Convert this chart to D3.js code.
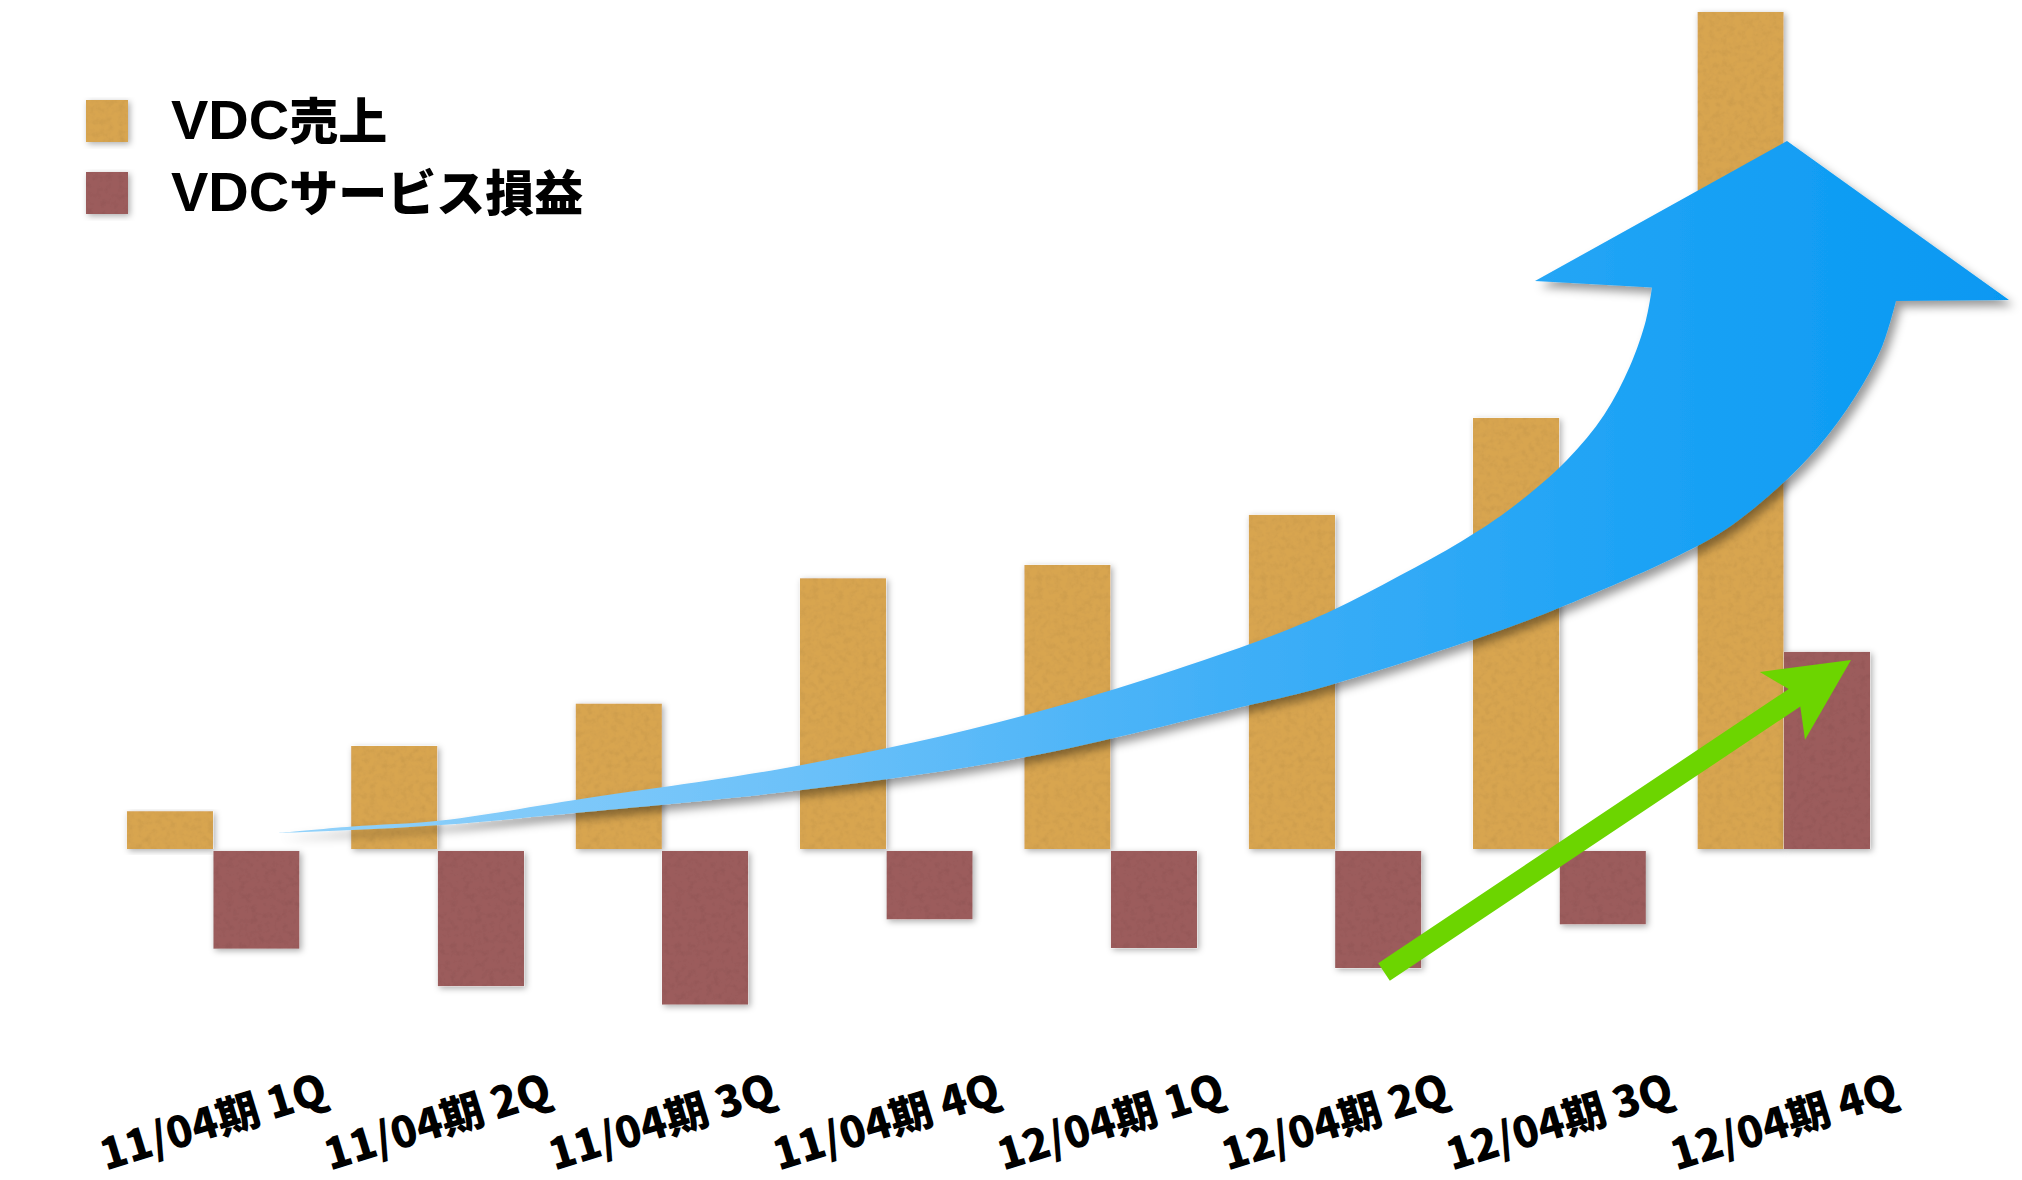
<!DOCTYPE html>
<html lang="ja">
<head>
<meta charset="utf-8">
<title>VDC売上とVDCサービス損益</title>
<script src="https://cdn.jsdelivr.net/npm/d3@7"></script>
<style>
  html, body { margin: 0; padding: 0; background: #ffffff; }
  svg { display: block; }
</style>
</head>
<body>
<svg id="chart" width="2022" height="1180"></svg>
<script>
// Quarterly figures (relative units, 12/04期 4Q sales = 100)
const categories = ["11/04期 1Q", "11/04期 2Q", "11/04期 3Q", "11/04期 4Q",
                    "12/04期 1Q", "12/04期 2Q", "12/04期 3Q", "12/04期 4Q"];
const salesValues  = [4.3, 12.1, 17.2, 32.2, 33.8, 39.8, 51.4, 100];
const profitValues = [-12.2, -16.7, -18.9, -8.7, -12.1, -14.5, -9.3, 23.4];
const seriesNames  = ["VDC売上", "VDCサービス損益"];
const seriesKeys   = ["sales", "profit"];
const seriesColors = ["#d8a550", "#9c5c5c"];

const rows = categories.map((c, i) => ({ cat: c, sales: salesValues[i], profit: profitValues[i] }));

const svg = d3.select("#chart");
const defs = svg.append("defs");

// Paper-like texture + soft shadow for the bars and legend swatches
const tex = defs.append("filter").attr("id", "paper")
  .attr("x", "-20%").attr("y", "-10%").attr("width", "150%").attr("height", "125%");
tex.append("feTurbulence").attr("type", "fractalNoise").attr("baseFrequency", "0.16")
  .attr("numOctaves", 3).attr("seed", 11).attr("result", "noise");
tex.append("feColorMatrix").attr("in", "noise").attr("type", "saturate").attr("values", 0).attr("result", "grey");
const ct = tex.append("feComponentTransfer").attr("in", "grey").attr("result", "shade");
["feFuncR", "feFuncG", "feFuncB"].forEach(f => ct.append(f).attr("type", "linear").attr("slope", 0.28).attr("intercept", 0.84));
ct.append("feFuncA").attr("type", "linear").attr("slope", 0).attr("intercept", 1);
tex.append("feBlend").attr("in", "SourceGraphic").attr("in2", "shade").attr("mode", "multiply").attr("result", "blended");
tex.append("feComposite").attr("in", "blended").attr("in2", "SourceGraphic").attr("operator", "in").attr("result", "textured");
tex.append("feGaussianBlur").attr("in", "SourceAlpha").attr("stdDeviation", 3).attr("result", "blur");
tex.append("feOffset").attr("in", "blur").attr("dx", 2).attr("dy", 2).attr("result", "offBlur");
tex.append("feFlood").attr("flood-color", "#000").attr("flood-opacity", 0.32).attr("result", "col");
tex.append("feComposite").attr("in", "col").attr("in2", "offBlur").attr("operator", "in").attr("result", "shadow");
const mg = tex.append("feMerge");
mg.append("feMergeNode").attr("in", "shadow");
mg.append("feMergeNode").attr("in", "textured");

// Shadow for the sweeping trend arrow
const arrowShadow = defs.append("filter").attr("id", "arrowShadow")
  .attr("x", "-10%").attr("y", "-10%").attr("width", "130%").attr("height", "130%");
arrowShadow.append("feDropShadow").attr("dx", 5).attr("dy", 6).attr("stdDeviation", 5)
  .attr("flood-color", "#000").attr("flood-opacity", 0.4);

const lineShadow = defs.append("filter").attr("id", "lineShadow")
  .attr("x", "-2%").attr("y", "-300%").attr("width", "104%").attr("height", "700%");
lineShadow.append("feDropShadow").attr("dx", 0).attr("dy", 1.5).attr("stdDeviation", 1)
  .attr("flood-color", "#000").attr("flood-opacity", 0.35);

const grad = defs.append("linearGradient").attr("id", "blueGrad")
  .attr("gradientUnits", "userSpaceOnUse").attr("x1", 278).attr("y1", 0).attr("x2", 2009).attr("y2", 0);
[[0, "#93d2fa"], [0.3, "#6cc1f9"], [0.55, "#40aff7"], [0.8, "#1ba2f5"], [1, "#0698f2"]]
  .forEach(([o, c]) => grad.append("stop").attr("offset", o).attr("stop-color", c));

// Scales
const x = d3.scaleBand().domain(categories).range([101, 1896]).paddingInner(0.229).paddingOuter(0.1145);
const xs = d3.scaleBand().domain(seriesKeys).range([0, x.bandwidth()]).padding(0);
const y = d3.scaleLinear().domain([0, 100]).range([847, 12]);
const color = d3.scaleOrdinal().domain(seriesKeys).range(seriesColors);

// Bars: positive bars sit on the axis, negative bars hang just beneath it
const groups = svg.append("g").selectAll("g").data(rows).join("g")
  .attr("transform", d => `translate(${x(d.cat)},0)`);

groups.selectAll("rect")
  .data(d => seriesKeys.map(k => ({ key: k, value: d[k] })))
  .join("rect")
  .attr("x", d => xs(d.key))
  .attr("width", xs.bandwidth())
  .attr("y", d => d.value >= 0 ? y(d.value) : y(0) + 4)
  .attr("height", d => d.value >= 0 ? (y(0) + 2 - y(d.value)) : (y(d.value) - y(0) - 4))
  .attr("fill", d => color(d.key))
  .attr("filter", "url(#paper)");

// Zero line
svg.append("line")
  .attr("x1", 12).attr("x2", 1989).attr("y1", y(0)).attr("y2", y(0))
  .attr("stroke", "#000").attr("stroke-width", 2.5)
  .attr("filter", "url(#lineShadow)");

// Category labels, tilted
const xAxis = d3.axisBottom(x).tickSize(0).tickPadding(0);
const axisG = svg.append("g").attr("transform", "translate(0,1122)").call(xAxis);
axisG.select(".domain").remove();
axisG.selectAll("text")
  .attr("y", 0).attr("dy", "0.35em")
  .attr("text-anchor", "middle")
  .attr("transform", "rotate(-17)")
  .attr("fill", "#000")
  .style("font-family", "'Noto Sans CJK JP', 'Noto Sans', sans-serif")
  .style("font-weight", 900)
  .style("font-size", "43px");

// Legend
const legend = svg.append("g");
const legendRows = seriesKeys.map((k, i) => ({ key: k, name: seriesNames[i], top: 100 + i * 72 }));
legend.selectAll("rect").data(legendRows).join("rect")
  .attr("x", 86).attr("y", d => d.top).attr("width", 42).attr("height", 42)
  .attr("fill", d => color(d.key))
  .attr("filter", "url(#paper)");
const ltext = legend.selectAll("text").data(legendRows).join("text")
  .attr("x", 171).attr("y", d => d.top + 38.5)
  .attr("fill", "#000");
ltext.append("tspan")
  .style("font-family", "'Liberation Sans', Arial, sans-serif")
  .style("font-weight", 700).style("font-size", "56px")
  .text(d => d.name.match(/^[A-Za-z]+/)[0]);
ltext.append("tspan")
  .style("font-family", "'Noto Sans CJK JP', sans-serif")
  .style("font-weight", 900).style("font-size", "49px")
  .text(d => d.name.replace(/^[A-Za-z]+/, ""));

// Sweeping growth arrow
const upperEdge = [[278, 833], [352, 826.5], [441, 820.5], [575, 800], [802, 765], [1026, 715],
  [1250, 644], [1331, 611], [1399, 576], [1462, 541], [1514, 506], [1567, 460], [1604, 415],
  [1630, 366], [1646, 320], [1652, 287.5]];
const arrowHead = [[1535, 281], [1787, 141], [2009, 300], [1896, 301]];
const lowerEdge = [[1896, 301], [1881.5, 348], [1855, 397], [1819, 446], [1777, 488.5], [1724, 530.6],
  [1672, 558.7], [1593, 593.7], [1514.5, 625.3], [1410, 660.4], [1305, 692], [1250, 705],
  [1026, 757], [802, 790], [575, 813], [441, 825], [352, 830], [278, 833]];
const smooth = d3.line().curve(d3.curveCatmullRom.alpha(0.5));
const arrowPath = smooth(upperEdge)
  + arrowHead.map(p => `L${p[0]},${p[1]}`).join("")
  + smooth(lowerEdge).replace(/^M/, "L")
  + "Z";
svg.append("path")
  .attr("d", arrowPath)
  .attr("fill", "url(#blueGrad)")
  .attr("filter", "url(#arrowShadow)");

// Profit turnaround arrow
const gStart = [1384, 972], gTip = [1851, 660];
const gLen = Math.hypot(gTip[0] - gStart[0], gTip[1] - gStart[1]);
const u = [(gTip[0] - gStart[0]) / gLen, (gTip[1] - gStart[1]) / gLen];
const n = [-u[1], u[0]];
const at = (along, side) => [gStart[0] + u[0] * along + n[0] * side, gStart[1] + u[1] * along + n[1] * side];
const shaftHalf = 10.5, notchAt = gLen - 68, barbAt = gLen - 82.5, barbHalf = 40.7;
const greenPts = [at(0, -shaftHalf), at(notchAt, -shaftHalf), at(barbAt, -barbHalf), gTip,
  at(barbAt, barbHalf), at(notchAt, shaftHalf), at(0, shaftHalf)];
svg.append("path")
  .attr("d", d3.line()(greenPts) + "Z")
  .attr("fill", "#6cd500");
</script>
</body>
</html>
